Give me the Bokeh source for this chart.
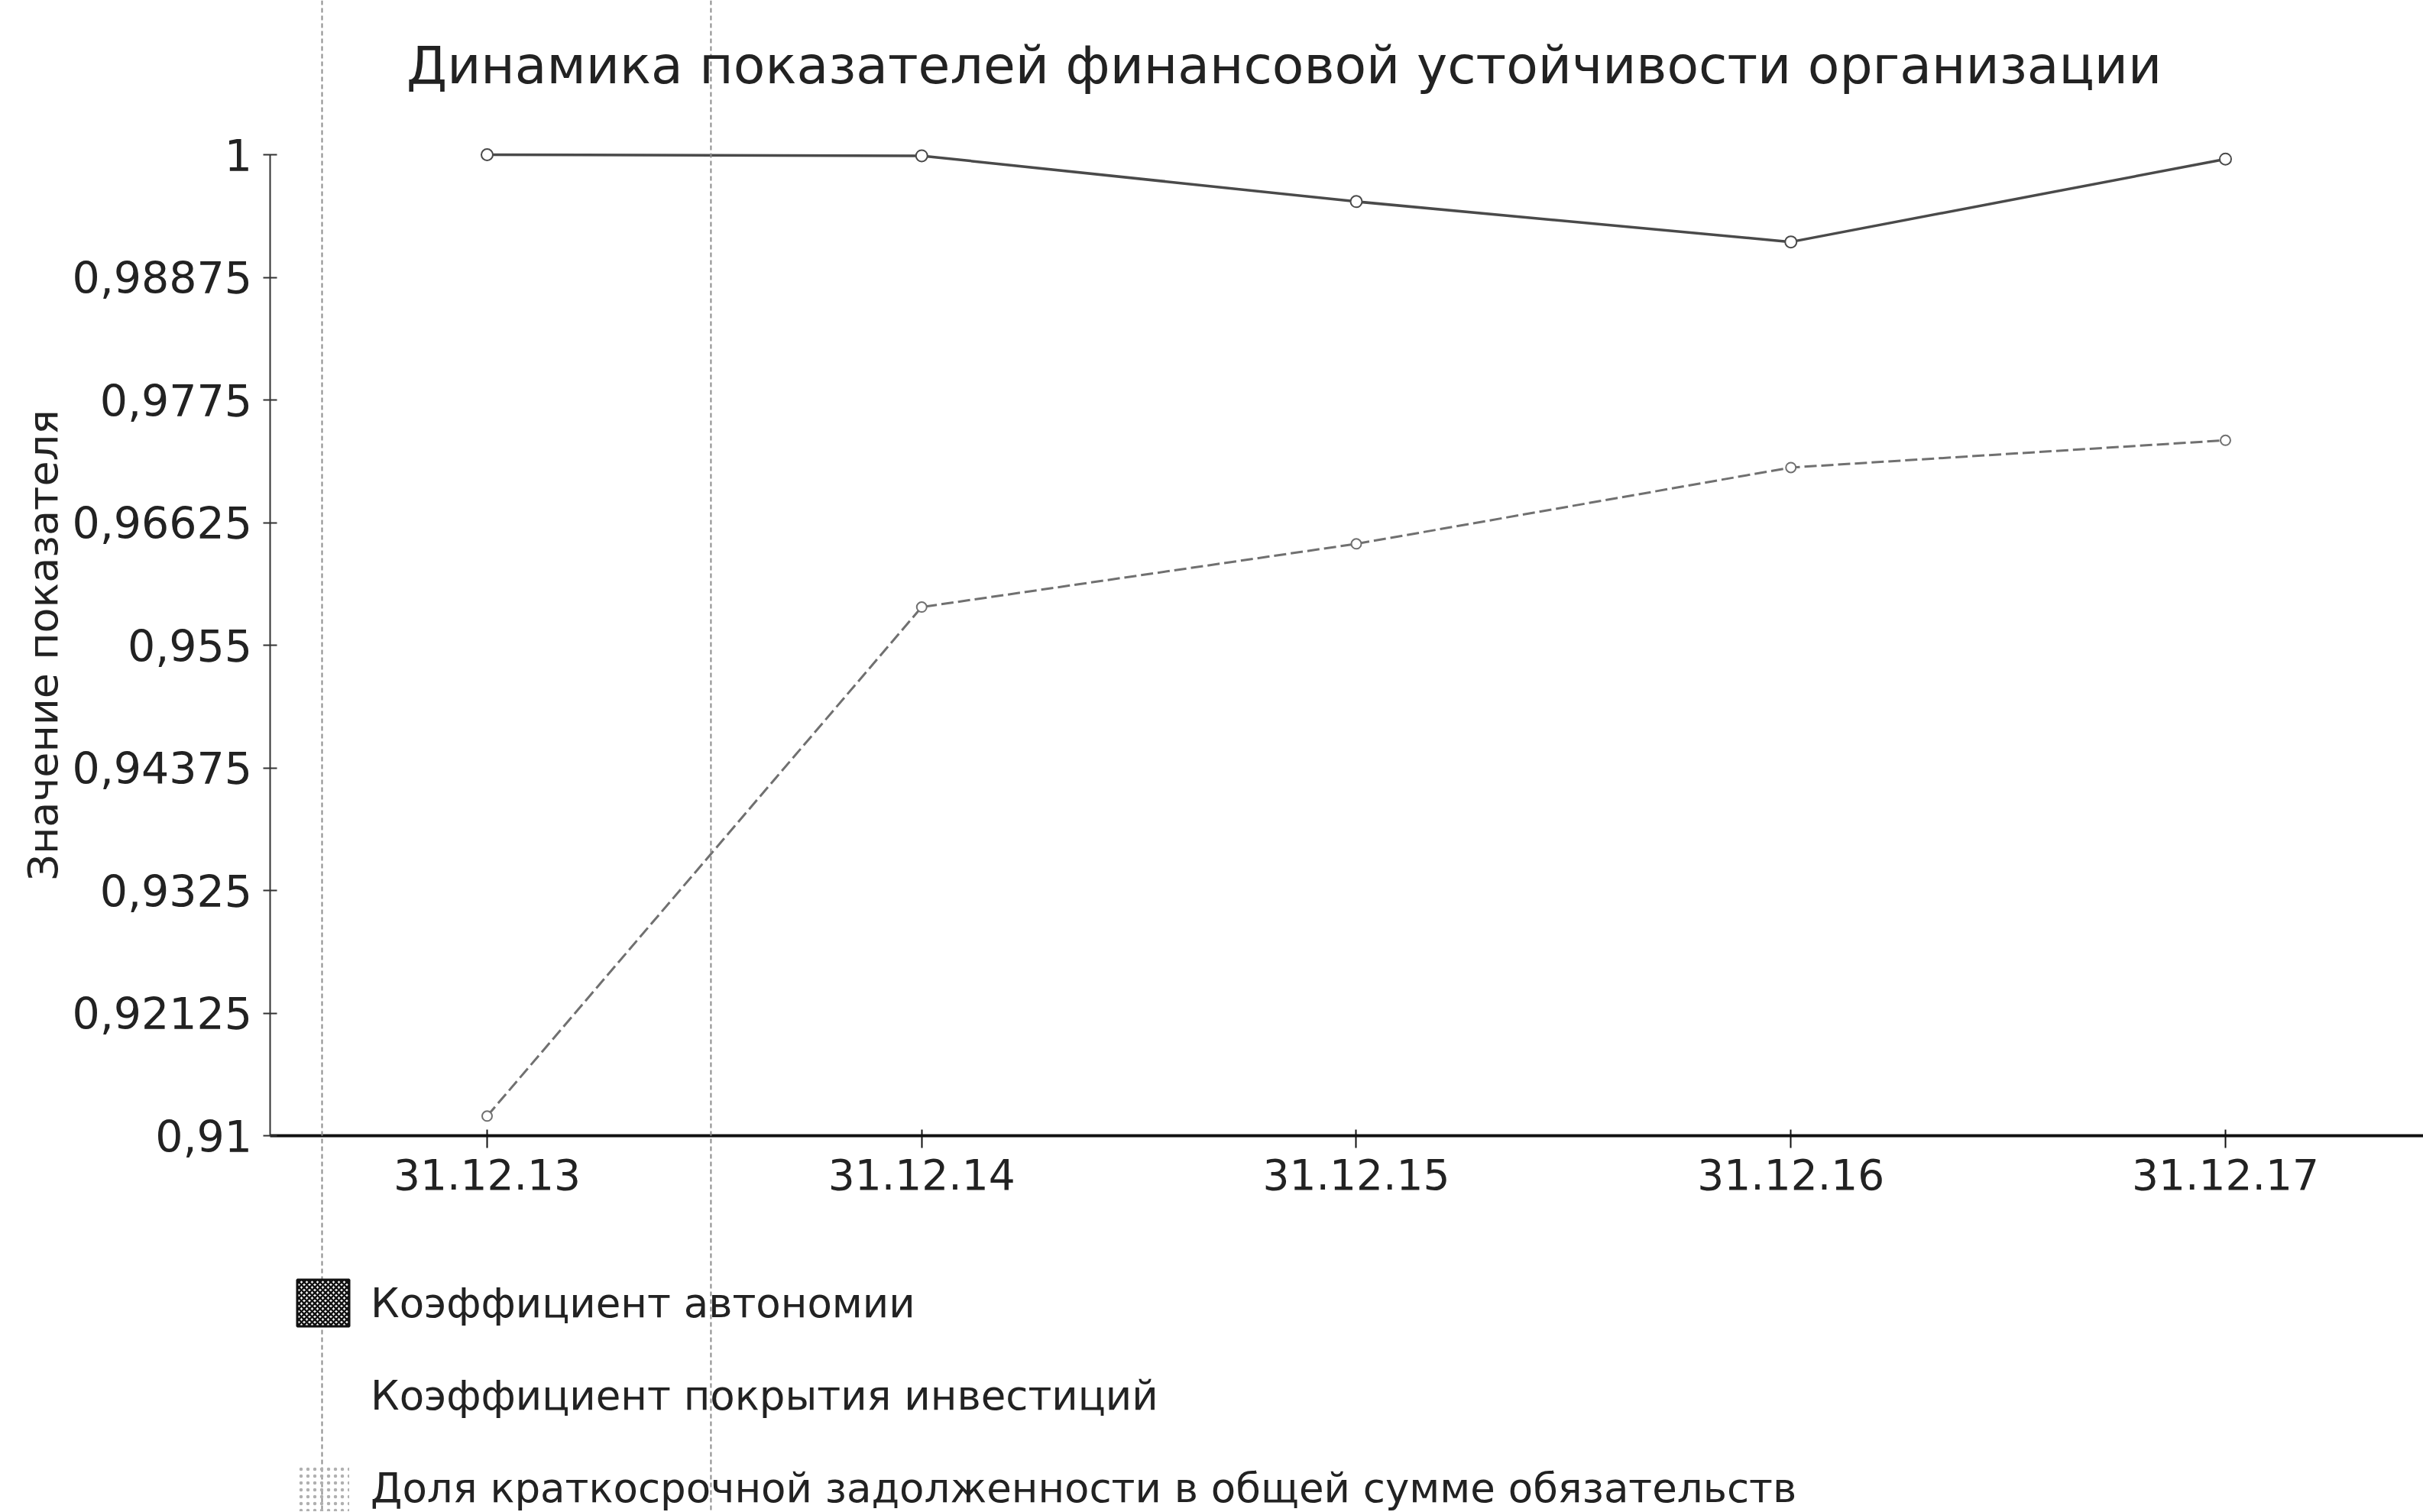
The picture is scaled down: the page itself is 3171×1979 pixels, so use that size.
from bokeh.plotting import figure
from bokeh.models import Range1d, FixedTicker, Label, Legend, LegendItem, Span
from bokeh.embed import file_html
from bokeh.resources import INLINE

# Reporting dates and indicator values
dates = ["31.12.13", "31.12.14", "31.12.15", "31.12.16", "31.12.17"]
autonomy = [1.0, 0.9999, 0.9957, 0.9920, 0.9996]
investment_cover = [0.9118, 0.9585, 0.9643, 0.9713, 0.9738]

series_names = [
    "Коэффициент автономии",
    "Коэффициент покрытия инвестиций",
    "Доля краткосрочной задолженности в общей сумме обязательств",
]
title_text = "Динамика показателей финансовой устойчивости организации"
y_title = "Значение показателя"

y_ticks = [0.91, 0.92125, 0.9325, 0.94375, 0.955, 0.96625, 0.9775, 0.98875, 1.0]
y_tick_labels = ["0,91", "0,92125", "0,9325", "0,94375", "0,955",
                 "0,96625", "0,9775", "0,98875", "1"]

# ---- layout constants -------------------------------------------------------
W, H = 3171, 1979
X_VIEW = (-1.12, 4.4554)
Y_VIEW = (0.875444, 1.014159)
FONT = "DejaVu Sans"
INK = "#222222"
PAGE_RULES_X = [-0.3798, 0.515]   # dotted page rules running through the sheet
NAN = float("nan")

x_idx = list(range(len(dates)))

p = figure(width=W, height=H, x_range=Range1d(*X_VIEW), y_range=Range1d(*Y_VIEW),
           output_backend="svg", toolbar_location=None, min_border=0,
           outline_line_color=None, background_fill_color="white",
           border_fill_color="white")
p.grid.visible = False

for fx in PAGE_RULES_X:
    p.add_layout(Span(location=fx, dimension="height", line_color="#8c8c8c",
                      line_width=2, line_dash="6 4"))

# x axis sits on the 0.91 level
xa = p.xaxis[0]
xa.fixed_location = y_ticks[0]
xa.bounds = (-0.5, 4.6)
xa.ticker = FixedTicker(ticks=x_idx)
xa.major_label_overrides = {i: d for i, d in zip(x_idx, dates)}
xa.minor_tick_line_color = None
xa.axis_line_color = "#111111"
xa.axis_line_width = 4
xa.major_tick_line_color = "#111111"
xa.major_tick_line_width = 2
xa.major_tick_in = 8
xa.major_tick_out = 16
xa.major_label_standoff = 14
xa.major_label_text_font = FONT
xa.major_label_text_font_size = "55px"
xa.major_label_text_color = INK

# y axis sits at the left edge of the category band
ya = p.yaxis[0]
ya.fixed_location = -0.5
ya.bounds = (y_ticks[0], y_ticks[-1])
ya.ticker = FixedTicker(ticks=y_ticks)
ya.major_label_overrides = {t: s for t, s in zip(y_ticks, y_tick_labels)}
ya.minor_tick_line_color = None
ya.axis_line_color = "#333333"
ya.axis_line_width = 2
ya.major_tick_line_color = "#333333"
ya.major_tick_line_width = 2
ya.major_tick_in = 9
ya.major_tick_out = 9
ya.major_label_standoff = 14
ya.major_label_text_font = FONT
ya.major_label_text_font_size = "57px"
ya.major_label_text_color = INK
ya.axis_label = y_title
ya.axis_label_text_font = FONT
ya.axis_label_text_font_size = "54px"
ya.axis_label_text_font_style = "normal"
ya.axis_label_text_color = INK
ya.axis_label_standoff = 4

# series
p.line(x_idx, autonomy, line_color="#4a4a4a", line_width=3.5)
p.scatter(x_idx, autonomy, marker="circle", size=15, fill_color="white",
          line_color="#4a4a4a", line_width=2)
p.line(x_idx, investment_cover, line_color="#707070", line_width=3, line_dash="16 6")
p.scatter(x_idx, investment_cover, marker="circle", size=13, fill_color="white",
          line_color="#707070", line_width=2)

# legend swatches (one undrawn row each, so the legend has something to sample)
swatch_kw = dict(left=[NAN], right=[NAN], top=[NAN], bottom=[NAN])
sw1 = p.quad(**swatch_kw, fill_color="white", line_color="#111111", line_width=3,
             hatch_pattern="diagonal_cross", hatch_color="#111111",
             hatch_scale=7, hatch_weight=2.5)
sw2 = p.quad(**swatch_kw, fill_color="white", fill_alpha=0, line_color=None)
sw3 = p.quad(**swatch_kw, fill_color="white", fill_alpha=0, line_color=None,
             hatch_pattern="dot", hatch_color="#b0b0b0", hatch_scale=9, hatch_weight=2)

legend = Legend(
    items=[LegendItem(label=series_names[0], renderers=[sw1]),
           LegendItem(label=series_names[1], renderers=[sw2]),
           LegendItem(label=series_names[2], renderers=[sw3])],
    location=(380, -6), orientation="vertical",
    glyph_width=85, glyph_height=76, spacing=45, padding=0, margin=0,
    label_standoff=20, label_text_font=FONT, label_text_font_size="53px",
    label_text_color=INK, border_line_color=None, background_fill_alpha=0,
)
p.add_layout(legend)

p.add_layout(Label(x=1.834, y=1.0082, text=title_text, text_align="center",
                   text_baseline="middle", text_font=FONT, text_font_size="68px",
                   text_color=INK))

open("out.html", "w").write(file_html(p, INLINE))
